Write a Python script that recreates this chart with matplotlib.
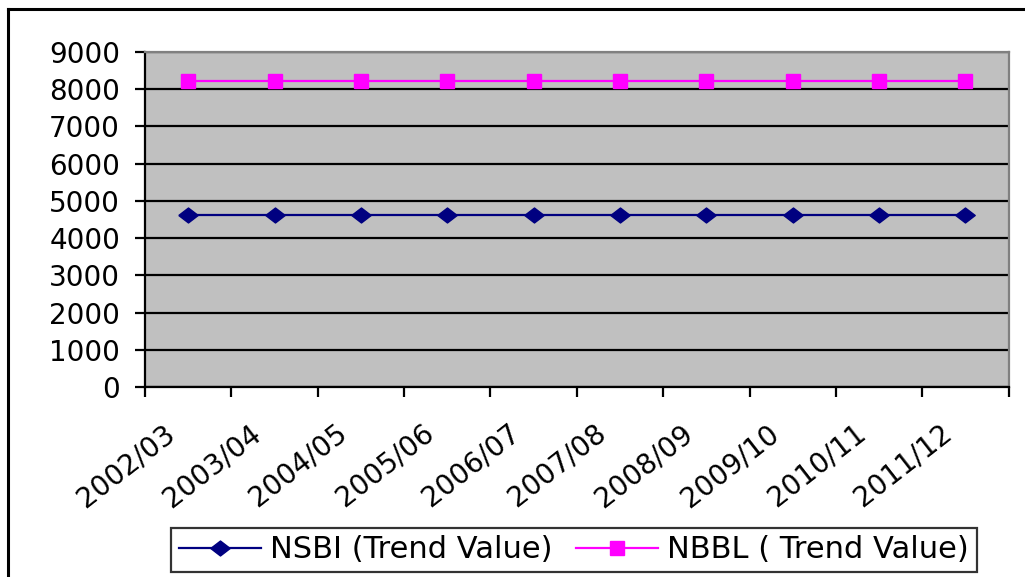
import numpy as np
import matplotlib.pyplot as plt
from matplotlib.lines import Line2D
from matplotlib.transforms import ScaledTranslation

plt.rcParams['font.family'] = ['DejaVu Sans']

# data
years = ['2002/03', '2003/04', '2004/05', '2005/06', '2006/07',
         '2007/08', '2008/09', '2009/10', '2010/11', '2011/12']
nsbi = [4610, 4610, 4610, 4610, 4610, 4610, 4610, 4610, 4610, 4610]
nbbl = [8210, 8210, 8210, 8210, 8210, 8210, 8210, 8210, 8210, 8210]

fig = plt.figure(figsize=(10.25, 5.77), dpi=100)
ax = fig.add_axes([0.1415, 0.3293, 0.8425, 0.5806])
ax.set_facecolor('#C0C0C0')

x = np.arange(len(years)) + 0.5

# stretched diamond like the excel one
wide_diamond = [(-1.3, 0), (0, 1), (1.3, 0), (0, -1), (-1.3, 0)]

ax.plot(x, nsbi, color='#000080', lw=1.6, marker=wide_diamond, ms=14,
        label='NSBI (Trend Value)', zorder=3)
ax.plot(x, nbbl, color='#FF00FF', lw=1.6, marker='s', ms=10,
        label='NBBL ( Trend Value)', zorder=3)

ax.set_xlim(0, len(years))
ax.set_ylim(0, 9000)
ax.set_yticks(np.arange(0, 9001, 1000))
ax.yaxis.grid(True, color='black', lw=1.6)
ax.set_axisbelow(True)

# ticks on category borders, labels in the middle
ax.set_xticks(np.arange(0, len(years) + 1))
ax.set_xticklabels([])
ax.set_xticks(x, minor=True)
ax.set_xticklabels(years, minor=True, rotation=38, ha='right', va='center',
                   rotation_mode='anchor', fontsize=20)
ax.tick_params(axis='x', which='major', direction='out', length=7, width=1.6)
ax.tick_params(axis='x', which='minor', length=0, pad=31)
ax.tick_params(axis='y', direction='out', length=7, width=1.6, labelsize=20, pad=11)

# nudge rotated labels to the left a bit
shift = ScaledTranslation(-17 / 100, 0, fig.dpi_scale_trans)
for lab in ax.get_xticklabels(minor=True):
    lab.set_transform(lab.get_transform() + shift)

for s in ['left', 'bottom']:
    ax.spines[s].set_color('black')
    ax.spines[s].set_linewidth(1.6)
for s in ['top', 'right']:
    ax.spines[s].set_color('#808080')
    ax.spines[s].set_linewidth(1.6)

leg = fig.legend(loc='center', bbox_to_anchor=(574 / 1025, 1 - 550 / 577), ncol=2,
                 fontsize=22, frameon=True, fancybox=False, edgecolor='black',
                 handlelength=2.7, handletextpad=0.3, columnspacing=0.75,
                 borderpad=0.25, borderaxespad=0)
leg.get_frame().set_linewidth(1.6)

# outer chart border, cut off at right and bottom
fig.add_artist(Line2D([8 / 1025, 8 / 1025], [0, 1 - 9 / 577], color='black',
                      lw=2.2, transform=fig.transFigure))
fig.add_artist(Line2D([8 / 1025, 1], [1 - 9 / 577, 1 - 9 / 577], color='black',
                      lw=2.2, transform=fig.transFigure))

fig.savefig('out.png', dpi=100)
